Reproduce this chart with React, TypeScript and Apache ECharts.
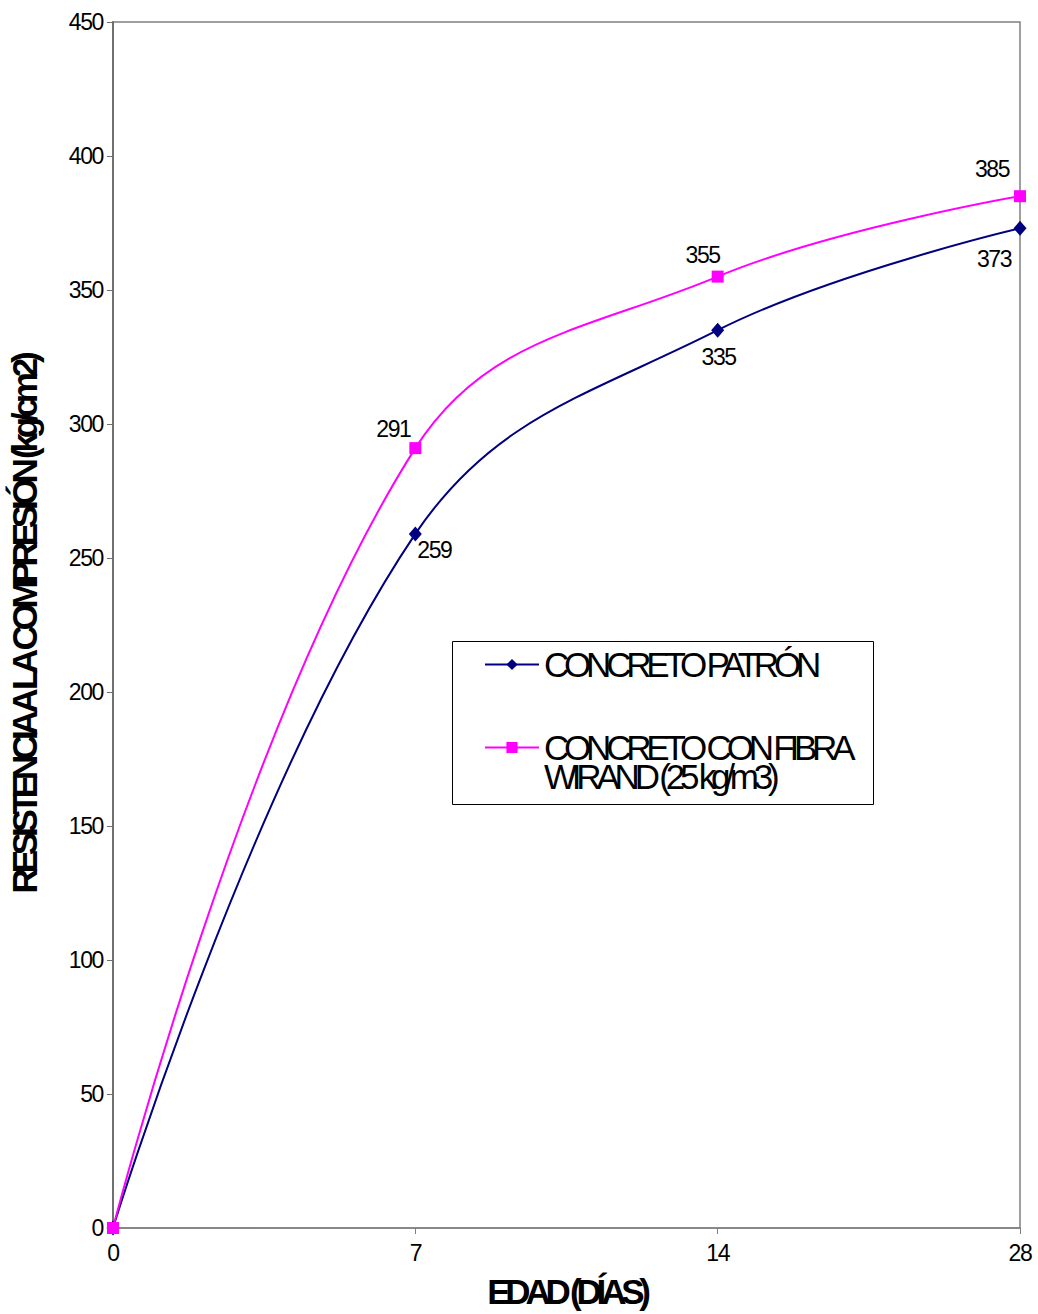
import React, { useEffect, useRef } from "react";
import * as echarts from "echarts";

const dias = ["0", "7", "14", "28"];
const patron = [0, 259, 335, 373];
const conFibra = [0, 291, 355, 385];
const nombrePatron = "CONCRETO PATRÓN";
const nombreFibra = "CONCRETO CON FIBRA\nWIRAND (25 kg/m3)";
const tituloX = "EDAD (DÍAS)";
const tituloY = "RESISTENCIA A LA COMPRESIÓN (kg/cm2)";

const FONT = "'Liberation Sans', Arial, Helvetica, sans-serif";
const BIG = 35;
const SMALL = 23;

// label nudges (dx, dy) from each marker's centre
const offPatron: [number, number][] = [[0, 0], [19, 16], [1, 27], [-26, 31]];
const offFibra: [number, number][] = [[0, 0], [-22, -19], [-15, -22], [-28, -27]];

// tight tracking for the chart's texts, keyed on their font size
const css = `
#root svg text[style*="${BIG}px"] { letter-spacing: -5.2px; }
#root svg text[style*="${SMALL}px"] { letter-spacing: -1.4px; }
`;

const valueLabel = {
  show: true,
  position: "inside",
  fontFamily: FONT,
  fontSize: SMALL,
  color: "#000",
  formatter: (p: any) => (p.dataIndex === 0 ? "" : String(p.value)),
};

export default function App() {
  const ref = useRef<HTMLDivElement>(null);

  useEffect(() => {
    if (!ref.current) return;
    const chart = echarts.init(ref.current, null, { renderer: "svg" });
    chart.setOption({
      animation: false,
      backgroundColor: "#ffffff",
      textStyle: { fontFamily: FONT },
      grid: {
        left: 113,
        right: 18,
        top: 22,
        bottom: 86,
        containLabel: false,
        outerBoundsMode: "none",
        show: true,
        borderColor: "#808080",
        borderWidth: 1.5,
      },
      graphic: [
        {
          type: "rect",
          shape: { x: 452.5, y: 641.5, width: 421, height: 163 },
          style: { fill: "#ffffff", stroke: "#000000", lineWidth: 1 },
          z: 5,
        },
      ],
      legend: [
        {
          left: 484,
          top: 647,
          padding: 0,
          itemWidth: 54,
          itemHeight: 14,
          textStyle: { fontFamily: FONT, fontSize: BIG, color: "#000", lineHeight: 30 },
          data: [nombrePatron],
          z: 10,
        },
        {
          left: 484,
          top: 701,
          padding: 0,
          itemWidth: 54,
          itemHeight: 14,
          // a blank first line keeps the marker level with the first line of the name
          formatter: (name: string) => "\n" + name,
          textStyle: { fontFamily: FONT, fontSize: BIG, color: "#000", lineHeight: 29 },
          data: [nombreFibra],
          z: 10,
        },
      ],
      xAxis: {
        type: "category",
        data: dias,
        boundaryGap: false,
        name: tituloX,
        nameLocation: "middle",
        nameGap: 46,
        nameTextStyle: { fontFamily: FONT, fontSize: BIG, fontWeight: "bold", color: "#000" },
        axisLine: { lineStyle: { color: "#808080", width: 1.5 } },
        axisTick: { show: true, alignWithLabel: true, length: 6, lineStyle: { color: "#808080" } },
        axisLabel: { fontFamily: FONT, fontSize: SMALL, color: "#000", margin: 13 },
        splitLine: { show: false },
      },
      yAxis: {
        type: "value",
        min: 0,
        max: 450,
        interval: 50,
        name: tituloY,
        nameLocation: "middle",
        nameGap: 71,
        nameTextStyle: { fontFamily: FONT, fontSize: BIG, fontWeight: "bold", color: "#000" },
        axisLine: { show: true, lineStyle: { color: "#707070", width: 2 } },
        axisTick: { show: true, length: 6, lineStyle: { color: "#707070" } },
        axisLabel: { fontFamily: FONT, fontSize: SMALL, color: "#000", margin: 10 },
        splitLine: { show: false },
      },
      series: [
        {
          name: nombrePatron,
          type: "line",
          data: patron,
          smooth: 0.4,
          symbol: "diamond",
          symbolSize: [13, 15],
          lineStyle: { color: "#000080", width: 2 },
          itemStyle: { color: "#000080" },
          label: valueLabel,
          labelLayout: (p: any) => ({ dx: offPatron[p.dataIndex][0], dy: offPatron[p.dataIndex][1] }),
          z: 3,
        },
        {
          name: nombreFibra,
          type: "line",
          data: conFibra,
          smooth: 0.4,
          symbol: "rect",
          symbolSize: 12,
          lineStyle: { color: "#ff00ff", width: 2 },
          itemStyle: { color: "#ff00ff" },
          label: valueLabel,
          labelLayout: (p: any) => ({ dx: offFibra[p.dataIndex][0], dy: offFibra[p.dataIndex][1] }),
          z: 4,
        },
      ],
    });
    return () => chart.dispose();
  }, []);

  return (
    <>
      <style>{css}</style>
      <div
        ref={ref}
        style={{ position: "absolute", left: 0, top: 0, width: 1038, height: 1314 }}
      />
    </>
  );
}
